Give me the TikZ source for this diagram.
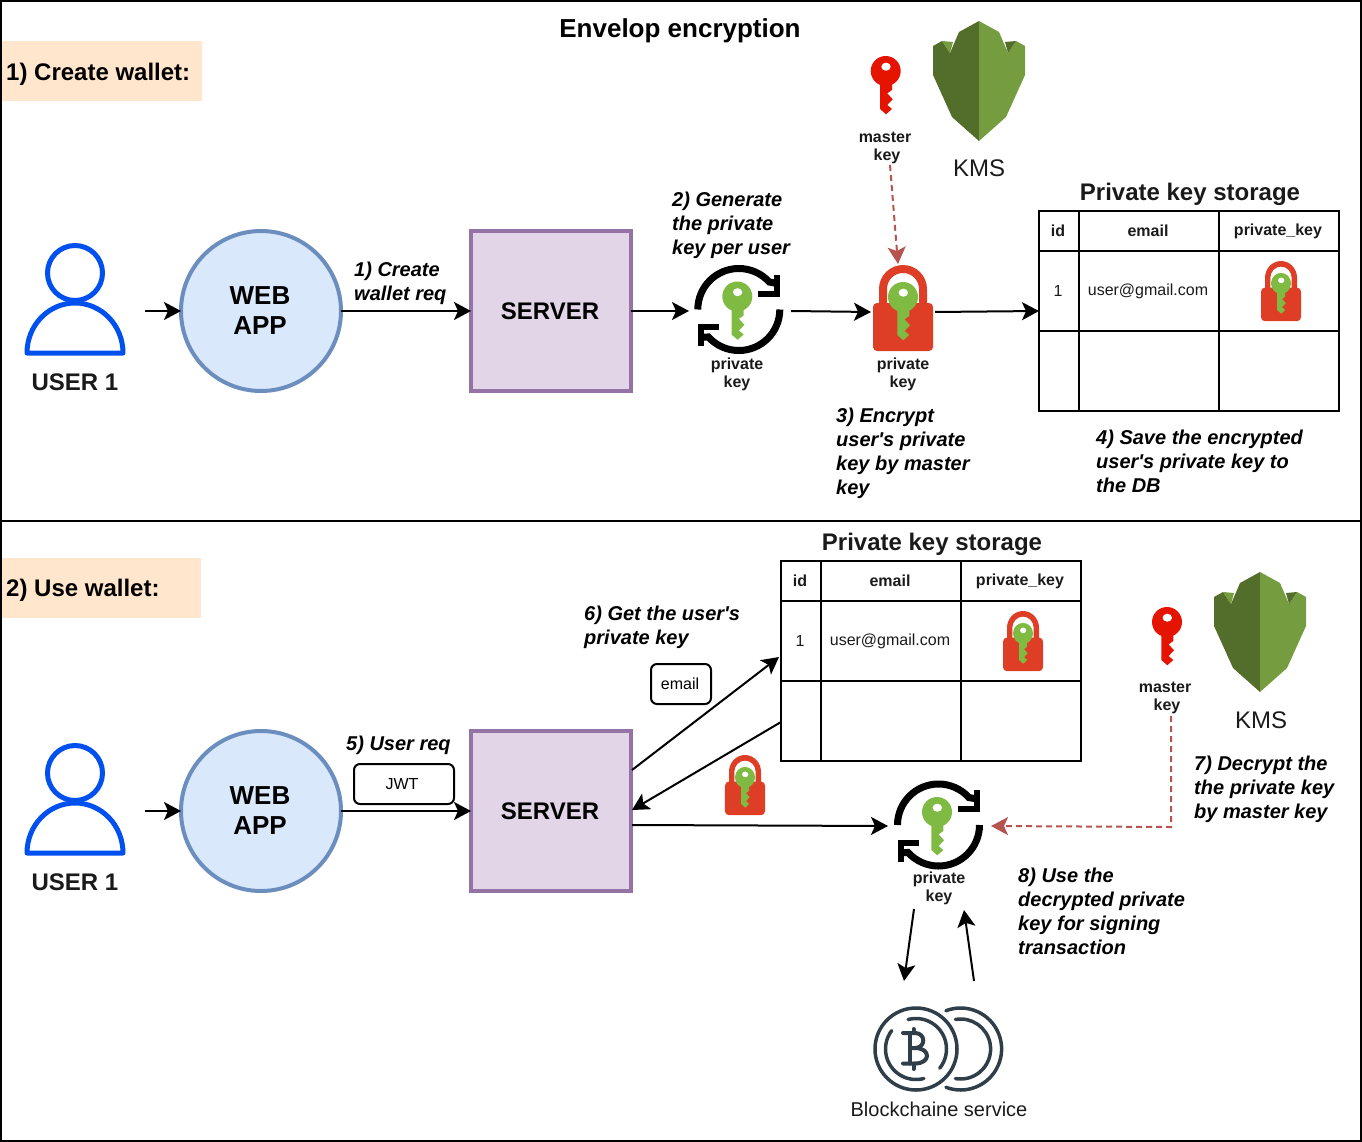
\documentclass[tikz,border=0pt]{standalone}
\usepackage{fontspec}
\setmainfont{Liberation Sans}
\usetikzlibrary{arrows.meta}
\definecolor{lockred}{HTML}{DD3E25}
\definecolor{keygreen}{HTML}{7FBA42}
\definecolor{keyred}{HTML}{E51400}
\definecolor{kmsdark}{HTML}{536D2B}
\definecolor{kmslight}{HTML}{759C3E}
\definecolor{userblue}{HTML}{0050EF}
\definecolor{coindark}{HTML}{2F3E48}
\definecolor{inkgrey}{HTML}{1A1A1A}
\definecolor{masterred}{HTML}{B85450}
\newcommand{\fsz}[1]{\fontsize{#1}{#1}\selectfont}
\newcommand{\keypath}[3]{
  \fill[#3] (#1,#2) circle (15);
  \begin{scope}[shift={(#1,#2)}]
  \fill[#3] (-5.7,10) -- (-5.7,38) -- (0.3,43.3) -- (6.3,38) -- (1.6,34) -- (7,28.3) -- (1.6,22.3) -- (6.3,19) -- (6.3,10) -- cycle;
  \fill[white] (0.3,-4.3) ellipse (4.7 and 4);
  \end{scope}
}
\tikzset{
  every pic/.style={yscale=-1},
  flow/.style={line width=2pt,-{Stealth[length=17pt,width=18pt,inset=4pt]}},
  masterflow/.style={flow,draw=masterred,dash pattern=on 6pt off 4pt},
  steptext/.style={anchor=west,align=left,inner sep=0pt,font=\fontsize{20}{24}\selectfont\bfseries\itshape},
  icontext/.style={align=center,inner sep=0pt,text=inkgrey,font=\fontsize{16}{18}\selectfont\bfseries},
  tabletitle/.style={inner sep=0pt,text=inkgrey,font=\fsz{24}\bfseries},
  wallettitle/.style={anchor=west,inner sep=0pt,font=\fsz{24}\bfseries},
  sectionbox/.style={fill={rgb,255:red,255;green,230;blue,204},anchor=north west,minimum height=60pt,inner sep=0pt},
  webapp/.style={circle,draw={rgb,255:red,108;green,142;blue,191},fill={rgb,255:red,218;green,232;blue,252},line width=4pt,
    outer sep=0pt,minimum size=160pt,inner sep=0pt,align=center,font=\fontsize{26}{30}\selectfont\bfseries},
  serverbox/.style={draw={rgb,255:red,150;green,115;blue,166},fill={rgb,255:red,225;green,213;blue,231},line width=4pt,
    outer sep=0pt,minimum size=160pt,inner sep=0pt,font=\fsz{24}\bfseries},
  tagbox/.style={draw,fill=white,rounded corners=6pt,line width=2pt,outer sep=0pt,minimum height=40pt,inner sep=0pt,font=\fsz{16}},
  keyshape/.pic={\keypath{0}{0}{keyred}},
  lockshape/.pic={
    \fill[lockred] (-24,40) -- (-24,24) arc (180:360:24) -- (24,40) -- (16,40) -- (16,24) arc (360:180:16) -- (-16,40) -- cycle;
    \fill[lockred,rounded corners=4pt] (-30,38) rectangle (30,86);
    \keypath{0}{32}{keygreen}
  },
  cycleshape/.pic={
    \draw[line width=7pt] (180:41) arc (180:318:41) -- (38.7,-26);
    \draw[line width=7pt] (0:41) arc (0:138:41) -- (-38.5,28);
    \draw[line width=6pt,line join=miter] (19.5,-15.8) -- (38.2,-15.8) -- (38.2,-35);
    \draw[line width=6pt,line join=miter] (-19.5,17.5) -- (-38,17.5) -- (-38,36.5);
    \keypath{-1.5}{-13}{keygreen}
  },
  kmsshape/.pic={
    \fill[kmsdark] (0,0) -- (-20,11) -- (-29,32) -- (-37,20) -- (-46,25) -- (-46,54) -- (-27,96) -- (0,120) -- cycle;
    \fill[kmslight] (0,0) -- (20,11) -- (29,32) -- (37,20) -- (46,25) -- (46,54) -- (27,96) -- (0,120) -- cycle;
    \fill[kmslight] (-37,20) -- (-29,32) -- (-26,21) -- cycle;
    \fill[kmsdark] (37,20) -- (29,32) -- (26,21) -- cycle;
  },
  usershape/.pic={
    \draw[userblue,line width=5pt] (0,0) circle (27.5);
    \draw[userblue,line width=5pt,line join=round] (-48,80) arc (180:360:48 and 50) -- cycle;
  },
  coinshape/.pic={
    \begin{scope}[coindark,line width=3.5pt,line cap=round]
    \draw (0,0) circle (41);
    \draw (255:30.5) arc (255:399:30.5);
    \draw (75:30.5) arc (75:217:30.5);
    \draw (44.6,0) ++(249:41) arc (249:471:41);
    \draw (44.6,0) ++(260:30) arc (260:460:30);
    \draw[line width=4pt] (-13,-16) -- (-1,-16) .. controls (10,-16) and (10,-1) .. (-1,-1) -- (-6,-1);
    \draw[line width=4pt] (-1,-1) .. controls (15,-1) and (15,14.5) .. (-1,14.5) -- (-13,14.5);
    \draw[line width=4pt] (-6,-16) -- (-6,14.5);
    \draw[line width=4pt] (-2.5,-20) -- (-2.5,-16);
    \draw[line width=4pt] (-2.5,14.5) -- (-2.5,20);
    \end{scope}
  },
  keytable/.pic={
    \node[draw,line width=2pt,anchor=north west,outer sep=0pt,minimum width=300pt,minimum height=200pt,inner sep=0pt] (-frame) at (0,0) {};
    \draw[line width=2pt] (40,0) -- (40,200);
    \draw[line width=2pt] (180,0) -- (180,200);
    \draw[line width=2pt] (0,40) -- (300,40);
    \draw[line width=2pt] (0,120) -- (300,120);
    \node[text=inkgrey,font=\fsz{16}\bfseries] (-id) at (19,20) {id};
    \node[text=inkgrey,font=\fsz{16}\bfseries] (-email) at (109,20) {email};
    \node[text=inkgrey,font=\fsz{16}\bfseries] (-key) at (239,20) {private\_key};
    \node[text=inkgrey,font=\fsz{16}] (-row) at (19,80) {1};
    \node[text=inkgrey,font=\fsz{16}] (-mail) at (109,80) {user@gmail.com};
  },
}
\begin{document}
\begin{tikzpicture}[x=1pt,y=1pt,yscale=-1]
\useasboundingbox (0,0) rectangle (1362,1142);
\node[draw,line width=2pt,anchor=north west,outer sep=0pt,minimum width=1360pt,minimum height=1140pt,inner sep=0pt] (frame) at (1,1) {};
\coordinate (splitl) at (1,521);
\coordinate (splitr) at (1361,521);
\draw[line width=2pt] (splitl) -- (splitr);

\node[inner sep=0pt,font=\fsz{26}\bfseries] (title) at (680,31) {Envelop encryption};
\node[sectionbox,minimum width=200pt] (createbox) at (2,41) {};
\node[wallettitle] (createlabel) at (6,74) {1) Create wallet:};
\node[sectionbox,minimum width=199pt] (usebox) at (2,558) {};
\node[wallettitle] (uselabel) at (6,590) {2) Use wallet:};

\pic at (75,273) {usershape};
\node[inner sep=0pt,text=inkgrey,font=\fsz{24}\bfseries] (user1) at (75,382) {USER 1};
\node[webapp] (app1) at (261,311) {\hspace{-2pt}WEB\\\hspace{-2pt}APP};
\node[serverbox] (server1) at (551,311) {\hspace{-2pt}SERVER};
\pic at (738.8,309.5) {cycleshape};
\node[icontext] (gen1) at (737,374) {private\\key};
\pic at (903,265) {lockshape};
\node[icontext] (enc1) at (903,374) {private\\key};
\pic at (885.7,71) {keyshape};
\node[icontext] (master1) at (885,148) {master\\\hspace{4pt}key};
\pic at (979,21) {kmsshape};
\node[inner sep=0pt,text=inkgrey,font=\fsz{24}] (kms1) at (979,168) {KMS};
\node[tabletitle] (store1title) at (1190,194) {Private key storage};
\pic (store1) at (1039,211) {keytable};
\pic[xscale=0.667,yscale=0.7] at (1281,261) {lockshape};

\node[steptext] (step1) at (354,283) {1) Create\\wallet req};
\node[steptext] (step2) at (672,225) {2) Generate\\the private\\key per user};
\node[steptext] (step3) at (836,453) {3) Encrypt\\user\textquotesingle s private\\key by master\\key};
\node[steptext] (step4) at (1096,461) {4) Save the encrypted\\user\textquotesingle s private key to\\the DB};

\coordinate (user1out) at (145,311);
\coordinate (gen1in) at (689,311);
\coordinate (gen1out) at (791,311);
\coordinate (enc1in) at (871,312);
\coordinate (enc1out) at (935,312);
\coordinate (master1out) at (890,165);
\coordinate (enc1top) at (898,264);
\draw[flow] (user1out) -- (app1.west);
\draw[flow] (app1.east) -- (server1.west);
\draw[flow] (server1.east) -- (gen1in);
\draw[flow] (gen1out) -- (enc1in);
\draw[flow] (enc1out) -- (store1-frame.west);
\draw[masterflow] (master1out) -- (enc1top);

\pic at (75,773) {usershape};
\node[inner sep=0pt,text=inkgrey,font=\fsz{24}\bfseries] (user2) at (75,882) {USER 1};
\node[webapp] (app2) at (261,811) {\hspace{-2pt}WEB\\\hspace{-2pt}APP};
\node[serverbox] (server2) at (551,811) {\hspace{-2pt}SERVER};
\node[tagbox,minimum width=100pt] (jwt) at (404,784) {\hspace{-4pt}JWT};
\node[tagbox,minimum width=60pt] (email) at (681,684) {\hspace{-2pt}email};
\node[tabletitle] (store2title) at (932,544) {Private key storage};
\pic (store2) at (781,561) {keytable};
\pic[xscale=0.667,yscale=0.7] at (1023,611) {lockshape};
\pic[xscale=0.667,yscale=0.7] at (745,755) {lockshape};
\pic at (938.5,825) {cycleshape};
\node[icontext] (gen2) at (939,888) {private\\key};
\pic at (1167,622) {keyshape};
\node[icontext] (master2) at (1165,698) {master\\\hspace{4pt}key};
\pic at (1260,572) {kmsshape};
\node[inner sep=0pt,text=inkgrey,font=\fsz{24}] (kms2) at (1261,720) {KMS};
\pic at (916,1049) {coinshape};
\node[inner sep=0pt,text=inkgrey,font=\fsz{20}] (chain) at (939,1109) {Blockchaine service};

\node[steptext] (step5) at (346,745) {5) User req};
\node[steptext] (step6) at (584,627) {6) Get the user\textquotesingle s\\private key};
\node[steptext] (step7) at (1194,789) {7) Decrypt the\\the private key\\by master key};
\node[steptext] (step8) at (1018,911) {8) Use the\\decrypted private\\key for signing\\transaction};

\coordinate (user2out) at (145,811);
\coordinate (server2up) at (632,770);
\coordinate (store2in) at (779,657);
\coordinate (store2out) at (781,722);
\coordinate (server2back) at (632,810);
\coordinate (server2out) at (632,825);
\coordinate (gen2in) at (888,826);
\coordinate (master2out) at (1171,716);
\coordinate (master2bend) at (1171,827);
\coordinate (gen2side) at (991,826);
\coordinate (gen2down) at (914,909);
\coordinate (chainin) at (904,981);
\coordinate (chainout) at (974,981);
\coordinate (gen2up) at (964,910);
\draw[flow] (user2out) -- (app2.west);
\draw[flow] (app2.east) -- (server2.west);
\draw[flow] (server2up) -- (store2in);
\draw[flow] (store2out) -- (server2back);
\draw[flow] (server2out) -- (gen2in);
\draw[masterflow] (master2out) -- (master2bend) -- (gen2side);
\draw[flow] (gen2down) -- (chainin);
\draw[flow] (chainout) -- (gen2up);
\end{tikzpicture}
\end{document}
